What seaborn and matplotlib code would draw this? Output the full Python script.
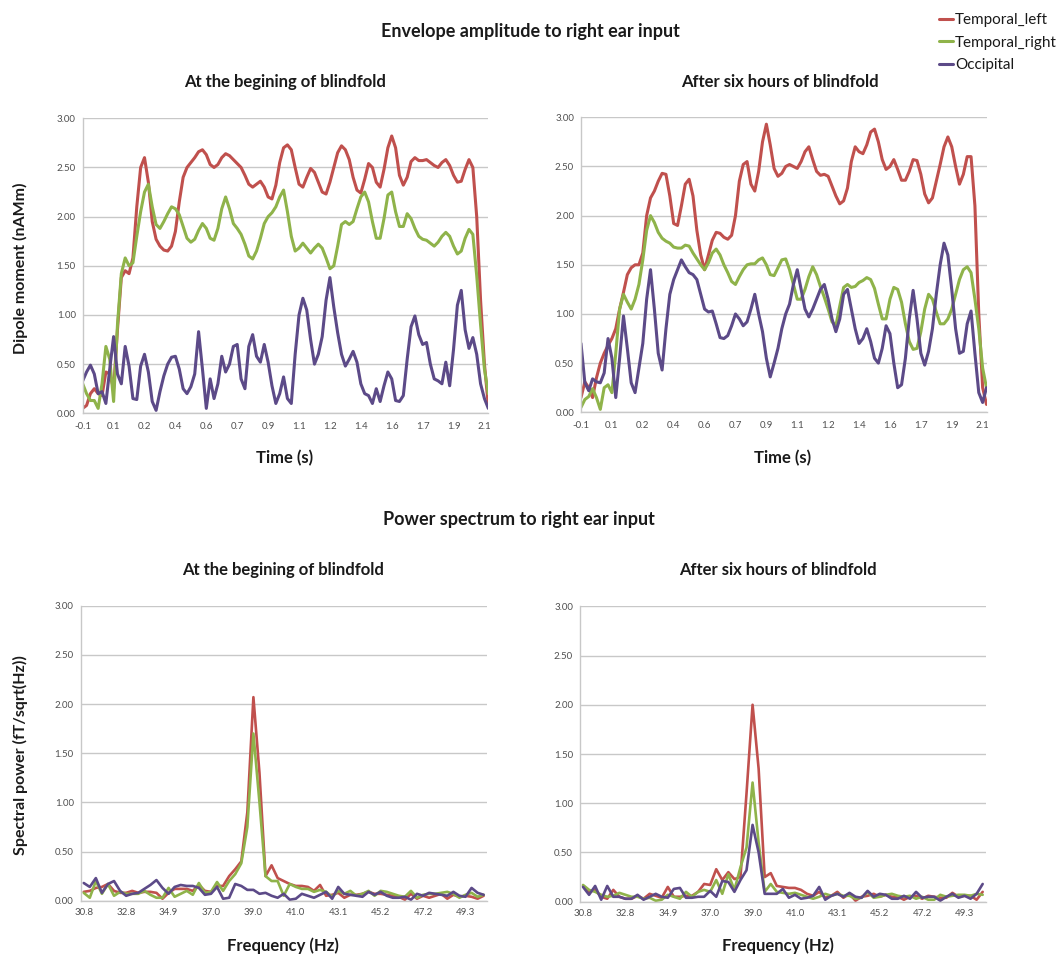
import numpy as np
import pandas as pd
import seaborn as sns
import matplotlib
matplotlib.use("Agg")
import matplotlib.pyplot as plt
from matplotlib.ticker import FixedLocator, FormatStrFormatter

# ---------------- data ----------------
regions = ["Temporal_left", "Temporal_right", "Occipital"]
colors = ["#C0504D", "#8FB34A", "#5C4A88"]

# time axis (s): samples every 0.02075 s starting at -0.1
time_s = np.round(-0.1 + np.arange(106) * 0.02075, 5)
time_tick_labels = ["-0.1", "0.1", "0.2", "0.4", "0.6", "0.7", "0.9",
                    "1.1", "1.2", "1.4", "1.6", "1.7", "1.9", "2.1"]

# envelope amplitude, beginning of blindfold
env_begin_left = [
    0.05, 0.08, 0.2, 0.25, 0.2, 0.18, 0.42, 0.4, 0.25, 0.85,
    1.38, 1.45, 1.42, 1.58, 2.1, 2.5, 2.6, 2.35, 1.95, 1.77,
    1.7, 1.66, 1.65, 1.7, 1.85, 2.15, 2.4, 2.5, 2.55, 2.6,
    2.66, 2.68, 2.63, 2.53, 2.5, 2.53, 2.6, 2.64, 2.62, 2.58,
    2.54, 2.5, 2.42, 2.33, 2.3, 2.33, 2.36, 2.3, 2.2, 2.18,
    2.32, 2.55, 2.7, 2.73, 2.68, 2.5, 2.33, 2.3, 2.4, 2.49,
    2.45, 2.35, 2.25, 2.23, 2.35, 2.5, 2.65, 2.72, 2.68, 2.58,
    2.4, 2.27, 2.24, 2.38, 2.54, 2.5, 2.35, 2.3, 2.48, 2.7,
    2.82, 2.7, 2.42, 2.32, 2.4, 2.56, 2.6, 2.57, 2.57, 2.58,
    2.55, 2.52, 2.5, 2.55, 2.58, 2.52, 2.42, 2.35, 2.36, 2.48,
    2.58, 2.5, 2.0, 1.15, 0.5, 0.08]
env_begin_right = [
    0.3, 0.2, 0.13, 0.13, 0.05, 0.3, 0.68, 0.55, 0.12, 0.9,
    1.42, 1.58, 1.5, 1.53, 1.8, 2.05, 2.25, 2.33, 2.1, 1.92,
    1.88, 1.95, 2.03, 2.1, 2.08, 2.02, 1.9, 1.78, 1.74, 1.77,
    1.86, 1.93, 1.88, 1.78, 1.76, 1.88, 2.08, 2.2, 2.08, 1.93,
    1.88, 1.82, 1.72, 1.6, 1.57, 1.65, 1.78, 1.93, 2.0, 2.04,
    2.1, 2.2, 2.27, 2.05, 1.8, 1.65, 1.68, 1.73, 1.68, 1.63,
    1.68, 1.72, 1.68, 1.58, 1.47, 1.5, 1.7, 1.92, 1.95, 1.92,
    1.95, 2.08, 2.2, 2.25, 2.15, 1.95, 1.78, 1.78, 1.98, 2.22,
    2.25, 2.05, 1.9, 1.9, 2.03, 1.98, 1.88, 1.8, 1.77, 1.76,
    1.73, 1.7, 1.74, 1.8, 1.84, 1.8, 1.7, 1.62, 1.65, 1.78,
    1.87, 1.82, 1.4, 0.9, 0.45, 0.2]
env_begin_occ = [
    0.33, 0.42, 0.49, 0.4, 0.2, 0.22, 0.1, 0.45, 0.78, 0.4,
    0.3, 0.68, 0.48, 0.15, 0.14, 0.48, 0.6, 0.42, 0.12, 0.03,
    0.22, 0.38, 0.5, 0.57, 0.58, 0.45, 0.25, 0.2, 0.27, 0.4,
    0.83, 0.45, 0.05, 0.35, 0.15, 0.3, 0.58, 0.42, 0.5, 0.68,
    0.7, 0.35, 0.25, 0.68, 0.8, 0.58, 0.52, 0.7, 0.52, 0.28,
    0.1, 0.2, 0.37, 0.15, 0.1, 0.6, 1.0, 1.17, 1.05, 0.75,
    0.5, 0.6, 0.78, 1.15, 1.38, 1.08, 0.82, 0.6, 0.48, 0.55,
    0.63, 0.52, 0.3, 0.2, 0.18, 0.1, 0.25, 0.12, 0.28, 0.42,
    0.35, 0.13, 0.12, 0.18, 0.55, 0.88, 0.99, 0.8, 0.7, 0.72,
    0.5, 0.35, 0.33, 0.3, 0.52, 0.28, 0.65, 1.1, 1.25, 0.85,
    0.66, 0.77, 0.6, 0.3, 0.15, 0.05]

# envelope amplitude, after six hours of blindfold
env_after_left = [
    0.15, 0.31, 0.25, 0.15, 0.35, 0.5, 0.6, 0.68, 0.75, 0.85,
    1.05, 1.22, 1.4, 1.47, 1.5, 1.5, 1.62, 2.0, 2.18, 2.25,
    2.35, 2.43, 2.42, 2.2, 1.92, 1.9, 2.1, 2.32, 2.37, 2.2,
    1.85, 1.6, 1.45, 1.6, 1.75, 1.83, 1.82, 1.78, 1.76, 1.8,
    2.0, 2.35, 2.52, 2.55, 2.32, 2.25, 2.45, 2.75, 2.93, 2.72,
    2.48, 2.4, 2.43, 2.5, 2.52, 2.5, 2.48, 2.55, 2.65, 2.7,
    2.57, 2.45, 2.41, 2.42, 2.4, 2.3, 2.2, 2.12, 2.15, 2.28,
    2.55, 2.7, 2.65, 2.63, 2.72, 2.85, 2.88, 2.75, 2.57, 2.47,
    2.5, 2.57, 2.47, 2.36, 2.36, 2.45, 2.57, 2.56, 2.42, 2.22,
    2.13, 2.18, 2.35, 2.52, 2.7, 2.8, 2.7, 2.5, 2.32, 2.42,
    2.6, 2.6, 2.1, 1.0, 0.25, 0.08]
env_after_right = [
    0.05, 0.13, 0.16, 0.24, 0.15, 0.03, 0.25, 0.28, 0.2, 0.6,
    1.05, 1.2, 1.12, 1.05, 1.15, 1.3, 1.55, 1.85, 2.0, 1.93,
    1.83, 1.77, 1.74, 1.72, 1.68, 1.67, 1.67, 1.7, 1.69, 1.62,
    1.56, 1.5, 1.45, 1.52, 1.62, 1.66, 1.6, 1.5, 1.42, 1.33,
    1.3, 1.38, 1.45, 1.5, 1.51, 1.51, 1.55, 1.57, 1.5, 1.4,
    1.39, 1.47, 1.55, 1.56, 1.45, 1.3, 1.15, 1.15, 1.25, 1.38,
    1.48, 1.4, 1.28, 1.17, 1.05, 0.92, 0.88, 1.08, 1.27, 1.3,
    1.27, 1.28, 1.32, 1.34, 1.37, 1.35, 1.26, 1.1, 0.95, 0.95,
    1.15, 1.27, 1.25, 1.12, 0.9, 0.72, 0.64, 0.65, 0.82, 1.05,
    1.2, 1.15, 1.02, 0.9, 0.9, 0.95, 1.05, 1.2, 1.35, 1.45,
    1.48, 1.42, 1.15, 0.85, 0.45, 0.25]
env_after_occ = [
    0.7, 0.3, 0.22, 0.34, 0.31, 0.3, 0.4, 0.75, 0.55, 0.15,
    0.55, 0.98, 0.65, 0.3, 0.2, 0.45, 0.7, 1.15, 1.45, 1.05,
    0.6, 0.43, 0.85, 1.2, 1.35, 1.45, 1.55, 1.48, 1.42, 1.4,
    1.35, 1.2, 1.05, 1.02, 1.03, 0.9, 0.76, 0.75, 0.78, 0.88,
    1.0, 0.95, 0.88, 0.92, 1.05, 1.2, 1.0, 0.82, 0.55, 0.36,
    0.5, 0.65, 0.85, 1.0, 1.1, 1.3, 1.45, 1.25, 1.05, 0.97,
    1.05, 1.15, 1.25, 1.3, 1.15, 0.95, 0.82, 0.95, 1.2, 1.25,
    1.05, 0.85, 0.7, 0.75, 0.85, 0.72, 0.55, 0.5, 0.65, 0.88,
    0.8, 0.5, 0.25, 0.28, 0.55, 0.95, 1.24, 0.95, 0.6, 0.48,
    0.62, 0.85, 1.2, 1.5, 1.72, 1.6, 1.25, 0.85, 0.6, 0.62,
    0.9, 1.03, 0.6, 0.2, 0.1, 0.25]

# frequency axis (Hz): 67 bins
freq_hz = np.round(30.79 + np.arange(67) * 0.29365, 4)
freq_tick_labels = ["30.8", "32.8", "34.9", "37.0", "39.0",
                    "41.0", "43.1", "45.2", "47.2", "49.3"]

spec_begin_left = [
    0.09, 0.1, 0.13, 0.14, 0.17, 0.1, 0.08, 0.08, 0.1, 0.08,
    0.09, 0.09, 0.08, 0.02, 0.08, 0.12, 0.12, 0.12, 0.1, 0.16,
    0.1, 0.09, 0.15, 0.15, 0.25, 0.32, 0.4, 0.9, 2.07, 1.3,
    0.25, 0.36, 0.23, 0.2, 0.17, 0.15, 0.15, 0.14, 0.1, 0.16,
    0.05, 0.06, 0.08, 0.03, 0.06, 0.06, 0.07, 0.09, 0.07, 0.07,
    0.06, 0.05, 0.04, 0.01, 0.07, 0.02, 0.05, 0.03, 0.05, 0.07,
    0.02, 0.06, 0.04, 0.05, 0.04, 0.02, 0.05]
spec_begin_right = [
    0.08, 0.03, 0.2, 0.07, 0.17, 0.05, 0.09, 0.07, 0.07, 0.07,
    0.1, 0.06, 0.03, 0.03, 0.13, 0.04, 0.07, 0.1, 0.06, 0.18,
    0.08, 0.09, 0.19, 0.1, 0.2, 0.27, 0.38, 0.75, 1.7, 1.0,
    0.25, 0.2, 0.2, 0.05, 0.17, 0.14, 0.12, 0.12, 0.09, 0.11,
    0.09, 0.04, 0.1, 0.07, 0.1, 0.05, 0.07, 0.1, 0.05, 0.1,
    0.09, 0.07, 0.05, 0.04, 0.1, 0.03, 0.06, 0.07, 0.07, 0.08,
    0.09, 0.07, 0.03, 0.06, 0.08, 0.04, 0.06]
spec_begin_occ = [
    0.18, 0.14, 0.23, 0.08, 0.17, 0.2, 0.1, 0.05, 0.07, 0.08,
    0.12, 0.16, 0.21, 0.13, 0.07, 0.14, 0.16, 0.15, 0.15, 0.13,
    0.06, 0.07, 0.14, 0.02, 0.03, 0.17, 0.15, 0.11, 0.11, 0.07,
    0.08, 0.05, 0.03, 0.07, 0.01, 0.02, 0.07, 0.05, 0.03, 0.06,
    0.09, 0.02, 0.14, 0.07, 0.06, 0.05, 0.04, 0.09, 0.06, 0.09,
    0.05, 0.03, 0.03, 0.04, 0.01, 0.07, 0.05, 0.08, 0.07, 0.06,
    0.05, 0.09, 0.05, 0.04, 0.13, 0.08, 0.06]

spec_after_left = [
    0.16, 0.1, 0.12, 0.05, 0.03, 0.12, 0.05, 0.03, 0.03, 0.06,
    0.03, 0.08, 0.06, 0.04, 0.15, 0.05, 0.05, 0.06, 0.06, 0.1,
    0.18, 0.17, 0.33, 0.22, 0.3, 0.23, 0.25, 1.1, 2.0, 1.35,
    0.25, 0.29, 0.16, 0.15, 0.14, 0.14, 0.12, 0.08, 0.06, 0.1,
    0.04, 0.06, 0.1, 0.04, 0.08, 0.01, 0.05, 0.06, 0.08, 0.05,
    0.07, 0.05, 0.05, 0.02, 0.05, 0.06, 0.03, 0.06, 0.05, 0.04,
    0.04, 0.09, 0.05, 0.06, 0.06, 0.02, 0.1]
spec_after_right = [
    0.17, 0.12, 0.1, 0.07, 0.05, 0.06, 0.09, 0.07, 0.05, 0.05,
    0.03, 0.04, 0.01, 0.02, 0.07, 0.05, 0.03, 0.1, 0.05, 0.1,
    0.12, 0.1, 0.22, 0.08, 0.28, 0.12, 0.35, 0.55, 1.21, 0.6,
    0.1, 0.18, 0.1, 0.09, 0.08, 0.09, 0.07, 0.05, 0.03, 0.05,
    0.08, 0.06, 0.08, 0.06, 0.06, 0.03, 0.04, 0.1, 0.04, 0.05,
    0.07, 0.08, 0.06, 0.05, 0.06, 0.03, 0.05, 0.02, 0.02, 0.07,
    0.05, 0.06, 0.07, 0.07, 0.06, 0.08, 0.07]
spec_after_occ = [
    0.15, 0.07, 0.16, 0.02, 0.16, 0.05, 0.05, 0.03, 0.03, 0.07,
    0.02, 0.05, 0.08, 0.05, 0.04, 0.13, 0.14, 0.04, 0.04, 0.05,
    0.05, 0.11, 0.05, 0.21, 0.2, 0.1, 0.22, 0.32, 0.78, 0.5,
    0.08, 0.08, 0.08, 0.13, 0.04, 0.07, 0.03, 0.04, 0.06, 0.15,
    0.02, 0.06, 0.08, 0.05, 0.09, 0.05, 0.04, 0.11, 0.05, 0.08,
    0.07, 0.03, 0.03, 0.06, 0.03, 0.1, 0.04, 0.05, 0.05, 0.01,
    0.05, 0.08, 0.04, 0.06, 0.03, 0.08, 0.18]

# ---------------- style ----------------
sns.set_theme(style="white")
plt.rcParams["font.family"] = ["Lato", "DejaVu Sans"]
GRID = "#C8C8C8"
TXT = "#1A1A1A"
TICK = "#505050"


def long_df(x, series, xname):
    frames = []
    for name, vals in zip(regions, series):
        frames.append(pd.DataFrame({xname: x, "value": vals, "region": name}))
    return pd.concat(frames, ignore_index=True)


def style_axes(ax):
    for s in ["top", "right"]:
        ax.spines[s].set_visible(False)
    for s in ["left", "bottom"]:
        ax.spines[s].set_color(GRID)
        ax.spines[s].set_linewidth(1.0)
    ax.set_ylim(0, 3.0)
    ax.set_yticks(np.arange(0, 3.01, 0.5))
    ax.yaxis.set_major_formatter(FormatStrFormatter("%.2f"))
    ax.yaxis.grid(True, color=GRID, linewidth=1.0)
    ax.set_axisbelow(True)
    ax.tick_params(axis="y", length=0, labelsize=7, labelcolor=TICK, pad=5)
    ax.set_xlabel("")
    ax.set_ylabel("")


fig = plt.figure(figsize=(10.58, 9.55), dpi=100)
W, H = 1058, 955


def add_ax(l, r, t, b):
    return fig.add_axes([l / W, 1 - b / H, (r - l) / W, (b - t) / H])


ax_tl = add_ax(82.7, 488.3, 118.3, 413.3)
ax_tr = add_ax(581.0, 986.5, 117.3, 412.3)
ax_bl = add_ax(80.7, 486.7, 605.7, 900.7)
ax_br = add_ax(580.0, 985.7, 606.3, 901.7)

palette = dict(zip(regions, colors))

# envelope panels
for ax, series in [(ax_tl, [env_begin_left, env_begin_right, env_begin_occ]),
                   (ax_tr, [env_after_left, env_after_right, env_after_occ])]:
    df = long_df(time_s, series, "time")
    sns.lineplot(data=df, x="time", y="value", hue="region", hue_order=regions,
                 palette=palette, estimator=None, sort=False, legend=False,
                 linewidth=2.2, ax=ax)
    style_axes(ax)
    ax.set_xlim(time_s[0], time_s[-1])
    tick_pos = -0.1 + 0.166 * np.arange(len(time_tick_labels))
    ax.set_xticks(tick_pos)
    ax.set_xticklabels(time_tick_labels)
    ax.tick_params(axis="x", length=4, width=1, color=GRID, labelsize=7,
                   labelcolor=TICK, pad=2, direction="out")

# spectrum panels
df_step = freq_hz[1] - freq_hz[0]
for ax, series in [(ax_bl, [spec_begin_left, spec_begin_right, spec_begin_occ]),
                   (ax_br, [spec_after_left, spec_after_right, spec_after_occ])]:
    df = long_df(freq_hz, series, "freq")
    sns.lineplot(data=df, x="freq", y="value", hue="region", hue_order=regions,
                 palette=palette, estimator=None, sort=False, legend=False,
                 linewidth=1.9, ax=ax)
    style_axes(ax)
    ax.set_xlim(freq_hz[0] - df_step / 2, freq_hz[-1] + df_step / 2)
    ax.set_xticks(freq_hz[::7][:len(freq_tick_labels)])
    ax.set_xticklabels(freq_tick_labels)
    ax.xaxis.set_minor_locator(FixedLocator(freq_hz[0] - df_step / 2 + 10 * df_step * np.arange(7)))
    ax.tick_params(axis="x", which="major", length=0, labelsize=7,
                   labelcolor=TICK, pad=5)
    ax.tick_params(axis="x", which="minor", length=4, width=1, color=GRID,
                   direction="out")

# ---------------- texts ----------------
def ftext(x, y, s, **kw):
    fig.text(x / W, 1 - y / H, s, ha="center", va="center", color=TXT, **kw)

ftext(530, 32, "Envelope amplitude to right ear input", fontsize=13, fontweight="bold")
ftext(285, 82, "At the begining of blindfold", fontsize=12, fontweight="bold")
ftext(780, 82, "After six hours of blindfold", fontsize=12, fontweight="bold")
ftext(285, 458, "Time (s)", fontsize=12, fontweight="bold")
ftext(783, 458, "Time (s)", fontsize=12, fontweight="bold")
ftext(20, 268, "Dipole moment (nAMm)", fontsize=11.5, fontweight="bold", rotation=90)

ftext(519, 520, "Power spectrum to right ear input", fontsize=13, fontweight="bold")
ftext(283, 570, "At the begining of blindfold", fontsize=12, fontweight="bold")
ftext(778, 570, "After six hours of blindfold", fontsize=12, fontweight="bold")
ftext(283, 946, "Frequency (Hz)", fontsize=12, fontweight="bold")
ftext(778, 946, "Frequency (Hz)", fontsize=12, fontweight="bold")
ftext(20, 755, "Spectral power (fT/sqrt(Hz))", fontsize=11.5, fontweight="bold", rotation=90)

# legend
handles = ax_tl.get_lines()[:3]
fig.legend(handles, regions, loc="upper left", bbox_to_anchor=(933 / W, 1 - 7 / H),
           frameon=False, fontsize=11, handlelength=0.9, handletextpad=0.15,
           labelspacing=0.55, borderaxespad=0, labelcolor=TXT)

fig.savefig("out.png", dpi=100, facecolor="white")
